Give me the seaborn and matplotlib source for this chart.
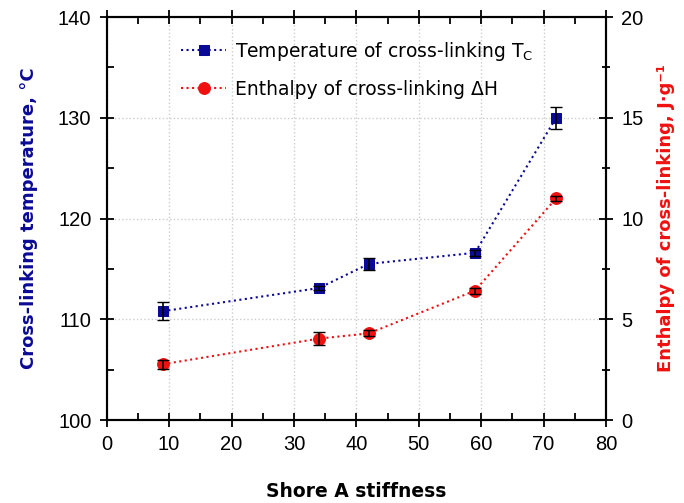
import matplotlib
matplotlib.use('Agg')
from matplotlib import pyplot as plt
from matplotlib.ticker import MultipleLocator
import numpy as np
import pandas as pd
import seaborn as sns

# Shore A stiffness of the samples
shore = [9, 34, 42, 59, 72]
# cross-linking temperature, degC (left axis)
temp = [110.8, 113.1, 115.5, 116.6, 130.0]
temp_err = [0.9, 0.2, 0.6, 0.3, 1.1]
# enthalpy of cross-linking, J/g (right axis)
enth = [2.77, 4.04, 4.3, 6.42, 11.0]
enth_err = [0.22, 0.33, 0.15, 0.15, 0.12]

blue = '#0a0a96'
red = '#f01010'

sns.set_style('ticks')
plt.rcParams['font.family'] = ['DejaVu Sans']
plt.rcParams['text.color'] = 'black'
plt.rcParams['axes.labelcolor'] = 'black'
plt.rcParams['xtick.color'] = 'black'
plt.rcParams['ytick.color'] = 'black'

df = pd.DataFrame({'shore': shore, 'temp': temp, 'enth': enth})

fig, ax = plt.subplots(figsize=(6.84, 5.03), dpi=100)
fig.subplots_adjust(left=0.156, right=0.886, bottom=0.165, top=0.966)
ax2 = ax.twinx()

sns.lineplot(data=df, x='shore', y='temp', ax=ax, color=blue, linestyle=':', lw=1.5,
             marker='s', markersize=7.5, markeredgecolor=blue, markerfacecolor=blue,
             label='Temperature of cross-linking T$_\\mathregular{C}$', legend=False)
ax.errorbar(shore, temp, yerr=temp_err, fmt='none', ecolor='black', capsize=4, lw=1.2, zorder=5)

sns.lineplot(data=df, x='shore', y='enth', ax=ax2, color=red, linestyle=':', lw=1.5,
             marker='o', markersize=8.5, markeredgecolor=red, markerfacecolor=red,
             label='Enthalpy of cross-linking \u0394H', legend=False)
ax2.errorbar(shore, enth, yerr=enth_err, fmt='none', ecolor='black', capsize=4, lw=1.2, zorder=5)

ax.set_xlim(0, 80)
ax.set_ylim(100, 140)
ax2.set_ylim(0, 20)
ax.xaxis.set_major_locator(MultipleLocator(10))
ax.xaxis.set_minor_locator(MultipleLocator(5))
ax.yaxis.set_major_locator(MultipleLocator(10))
ax.yaxis.set_minor_locator(MultipleLocator(5))
ax2.yaxis.set_major_locator(MultipleLocator(5))
ax2.yaxis.set_minor_locator(MultipleLocator(2.5))

ax.grid(True, which='major', linestyle=':', color='#cccccc', lw=1)

for a in (ax, ax2):
    for s in a.spines.values():
        s.set_visible(True)
        s.set_linewidth(1.5)
        s.set_color('black')
ax.tick_params(which='major', direction='inout', length=10, width=1.3, top=True,
               labelsize=14.5, labelfontfamily='Liberation Sans', pad=6)
ax.tick_params(which='minor', direction='in', length=5, width=1.3, top=True)
ax2.tick_params(which='major', direction='inout', length=10, width=1.3,
                labelsize=14.5, labelfontfamily='Liberation Sans', pad=6)
ax2.tick_params(which='minor', direction='inout', length=6, width=1.3)

ax.set_xlabel('Shore A stiffness', fontsize=13.5, fontweight='bold', labelpad=20)
ax.set_ylabel('Cross-linking temperature, \u00b0C', fontsize=13, fontweight='bold',
              color=blue, labelpad=14)
ax2.set_ylabel('Enthalpy of cross-linking, J\u00b7g\u207b\u00b9', fontsize=13,
               fontweight='bold', color=red, labelpad=10)

h1, l1 = ax.get_legend_handles_labels()
h2, l2 = ax2.get_legend_handles_labels()
ax2.legend(h1 + h2, l1 + l2, loc='upper left', bbox_to_anchor=(0.115, 0.985),
           frameon=False, fontsize=13.5, handlelength=2.4, handletextpad=0.5,
           labelspacing=0.9)

fig.savefig('out.png', dpi=100)
